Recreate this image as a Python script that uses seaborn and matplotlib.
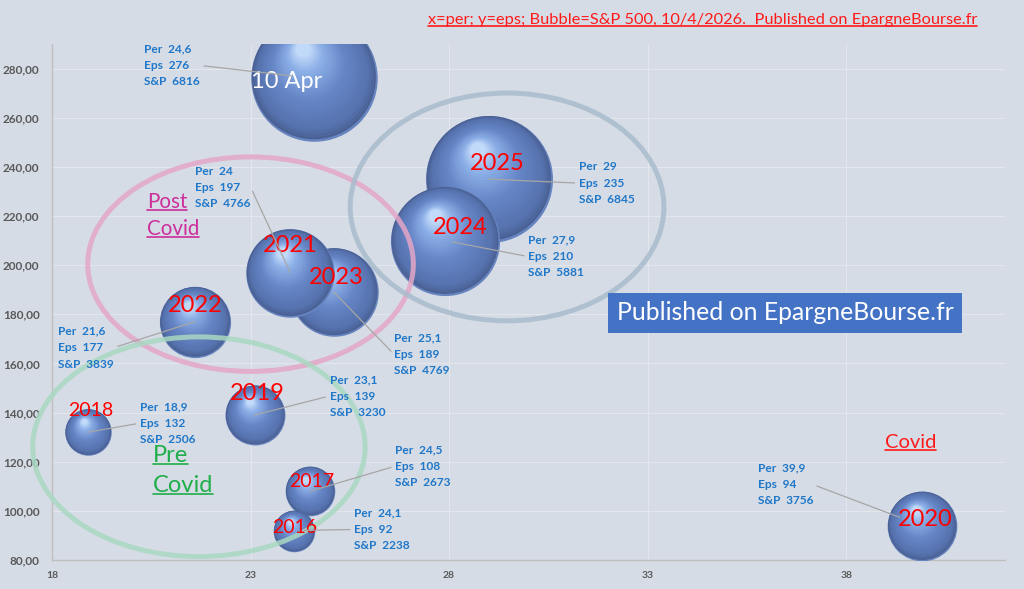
import numpy as np
import pandas as pd
import matplotlib
matplotlib.use("Agg")
import matplotlib.pyplot as plt
import seaborn as sns
from matplotlib.markers import MarkerStyle
from matplotlib.path import Path
from matplotlib.patches import Ellipse
from matplotlib.lines import Line2D
from matplotlib.transforms import IdentityTransform
from matplotlib.colors import to_rgb

# ---------------- data ----------------
labels = ["2016", "2017", "2018", "2019", "2020", "2021", "2022", "2023", "2024", "2025", "10 Apr"]
per = [24.1, 24.5, 18.9, 23.1, 39.9, 24.0, 21.6, 25.1, 27.9, 29.0, 24.6]
eps = [92, 108, 132, 139, 94, 197, 177, 189, 210, 235, 276]
sp500 = [2238, 2673, 2506, 3230, 3756, 4766, 3839, 4769, 5881, 6845, 6816]
per_text = ["24,1", "24,5", "18,9", "23,1", "39,9", "24", "21,6", "25,1", "27,9", "29", "24,6"]
x_ticks = [18, 23, 28, 33, 38]
y_ticks = [80, 100, 120, 140, 160, 180, 200, 220, 240, 260, 280]
y_tick_labels = ["80,00", "100,00", "120,00", "140,00", "160,00", "180,00",
                 "200,00", "220,00", "240,00", "260,00", "280,00"]
title_text = "x=per; y=eps; Bubble=S&P 500, 10/4/2026.  Published on EpargneBourse.fr"

df = pd.DataFrame({"label": labels, "per": per, "eps": eps, "sp": sp500, "pt": per_text})

# ---------------- style ----------------
BG = "#d6dce5"
W, H = 1024, 589
sns.set_theme(style="white")
plt.rcParams["font.family"] = ["Lato", "DejaVu Sans"]

fig = plt.figure(figsize=(W / 100, H / 100), dpi=100, facecolor=BG)
ax = fig.add_axes([52 / W, 29 / H, 953 / W, 516 / H])
ax.set_facecolor(BG)

# bubble diameter proportional to value (Excel "width" sizing)
PT_PER_UNIT = 0.01336
df["s"] = (df["sp"] * PT_PER_UNIT) ** 2

# sphere shading layers
stops = [(0.0, "#4d669c"), (0.08, "#5672ae"), (0.45, "#6686c6"),
         (0.8, "#8db0e8"), (1.0, "#c2daf9")]


def interp_color(t):
    for (t0, c0), (t1, c1) in zip(stops[:-1], stops[1:]):
        if t0 <= t <= t1:
            a = (t - t0) / (t1 - t0)
            r0, r1 = np.array(to_rgb(c0)), np.array(to_rgb(c1))
            return tuple(r0 + a * (r1 - r0))
    return to_rgb(stops[-1][1])


def layer(cx, cy, f, col):
    path = Path.circle(center=(cx, cy), radius=f)
    scale = max(abs(cx), abs(cy)) + f
    return (MarkerStyle(path), scale, col)


layers = [layer(0, 0, 1.0, "#6684c0"),          # soft bottom reflection
          layer(-0.01, 0.02, 0.98, "#4a5f92")]  # dark rim
N_LAYERS = 26
for i in range(N_LAYERS):
    t = i / (N_LAYERS - 1)
    f = 0.96 - 0.84 * t
    cx, cy = -0.01 - 0.17 * t, 0.03 + 0.43 * t
    layers.append(layer(cx, cy, f, interp_color(t)))

order = df.sort_values("sp", ascending=False).index.tolist()
z = 2
for idx in order:
    row = df.loc[[idx]]
    for mk, scale, col in layers:
        sns.scatterplot(data=row, x="per", y="eps", s=row["s"].to_numpy() * scale ** 2,
                        marker=mk, color=col, linewidth=0, legend=False, ax=ax,
                        zorder=z, clip_on=True)
        z += 0.01
    z += 0.1

ax.set_xlabel("")
ax.set_ylabel("")
ax.set_xlim(18, 42)
ax.set_ylim(80, 290)

# axes & grid
ax.set_xticks(x_ticks)
ax.set_xticks(np.arange(18, 43, 1), minor=True)
ax.set_yticks(y_ticks)
ax.set_yticklabels(y_tick_labels)
ax.tick_params(axis="x", which="both", direction="out", length=4, width=0.8,
               color="#bfbfbf", labelsize=7.5, labelcolor="#595959", pad=4)
ax.tick_params(axis="y", which="both", length=0, labelsize=8.5, labelcolor="#595959", pad=9)
for lab in ax.get_xticklabels() + ax.get_yticklabels():
    lab.set_fontweight("bold")
ax.grid(True, which="major", color="#e3e6eb", lw=0.8)
ax.set_axisbelow(True)
for sp in ["top", "right"]:
    ax.spines[sp].set_visible(False)
for sp in ["left", "bottom"]:
    ax.spines[sp].set_color("#bfbfbf")
    ax.spines[sp].set_linewidth(1)

# ellipses (group annotations)
for (c, w, h, col) in [((23.0, 200.4), 8.2, 87.3, "#e4a6c7"),
                       ((21.7, 126.1), 8.37, 89.4, "#a9d8c2"),
                       ((29.46, 223.7), 7.9, 92.7, "#a9bccd")]:
    ax.add_patch(Ellipse(c, w, h, fill=False, ec=col, lw=3.6, alpha=0.85, zorder=50,
                         clip_on=False))

# year labels
year_off = {"2016": (0, 3), "2017": (2, 10), "2018": (3, 22), "2019": (3, 22),
            "2020": (4, 6), "2021": (0, 27), "2022": (0, 16), "2023": (2, 15),
            "2024": (15, 13), "2025": (8, 16), "10 Apr": (-27, -3)}
year_size = {"2016": 14, "2017": 14, "2018": 14}
for _, r in df.iterrows():
    dx, dy = year_off[r["label"]]
    col = "white" if r["label"] == "10 Apr" else "#ff0000"
    ax.annotate(r["label"], (r["per"], r["eps"]), xytext=(dx, dy), textcoords="offset pixels",
                ha="center", va="center", fontsize=year_size.get(r["label"], 17),
                color=col, zorder=60)

# callouts
call_off = {"2016": (60, 1, 7), "2017": (85, 25, 0), "2018": (52, 9, 0), "2019": (75, 19, 0),
            "2020": (-164, 41, 17), "2021": (-95, 85, 0), "2022": (-137, -26, 0),
            "2023": (60, -62, 0), "2024": (83, -16, 5), "2025": (90, -4, 0),
            "10 Apr": (-170, 13, 16)}
for _, r in df.iterrows():
    dx, dy, sb = call_off[r["label"]]
    txt = f"Per  {r['pt']}\nEps  {r['eps']}\nS&P  {r['sp']}"
    rel = (0, 0.5) if dx > 0 else (1, 0.5)
    ax.annotate(txt, (r["per"], r["eps"]), xytext=(dx, dy), textcoords="offset pixels",
                ha="left", va="center", fontsize=8.6, fontweight="bold", color="#1f77c9",
                linespacing=1.6, zorder=70,
                arrowprops=dict(arrowstyle="-", color="#a6a6a6", lw=0.9, relpos=rel,
                                patchA=None, shrinkA=3, shrinkB=sb))

# free texts
def ptext(x, y, s, **kw):
    return fig.text(x / W, 1 - y / H, s, **kw)


title = ptext(428, 20, title_text, ha="left", va="center", fontsize=11.8, color="#ff1a1a")
post1 = ptext(147, 202, "Post", ha="left", va="center", fontsize=14.8, color="#cc2e9b")
post2 = ptext(147, 229, "Covid", ha="left", va="center", fontsize=14.8, color="#cc2e9b")
pre1 = ptext(153, 456, "Pre", ha="left", va="center", fontsize=17, color="#1fae4a")
pre2 = ptext(153, 486, "Covid", ha="left", va="center", fontsize=17, color="#1fae4a")
cov = ptext(885, 443, "Covid", ha="left", va="center", fontsize=14.5, color="#ff1a1a")
ptext(785, 313, "Published on EpargneBourse.fr", ha="center", va="center", fontsize=17.8,
      color="white", bbox=dict(boxstyle="square,pad=0.35", fc="#4472c4", ec="none"))

fig.canvas.draw()
for t, col in [(title, "#ff1a1a"), (post1, "#cc2e9b"), (post2, "#cc2e9b"),
               (pre1, "#1fae4a"), (pre2, "#1fae4a"), (cov, "#ff1a1a")]:
    bb = t.get_window_extent()
    yy = bb.y0 + 0.10 * bb.height
    fig.add_artist(Line2D([bb.x0, bb.x1], [yy, yy], transform=IdentityTransform(),
                          color=col, lw=1.2))

fig.savefig("out.png", dpi=100, facecolor=BG)
